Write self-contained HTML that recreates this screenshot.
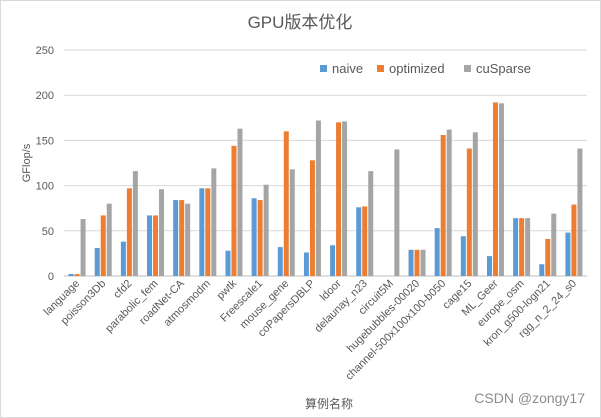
<!DOCTYPE html>
<html><head><meta charset="utf-8"><style>
body{margin:0;background:#fff;}
svg{display:block;font-family:"Liberation Sans","Noto Sans CJK SC",sans-serif;}
</style></head><body>
<svg id="c" width="601" height="418">
<rect x="0.5" y="0.5" width="600" height="417" fill="#fff" stroke="#d9d9d9"/>
<text x="300" y="28" text-anchor="middle" font-size="17" fill="#595959">GPU版本优化</text>
<text transform="translate(30,163) rotate(-90)" text-anchor="middle" font-size="11" fill="#595959">GFlop/s</text>
<text x="329" y="408" text-anchor="middle" font-size="12" fill="#595959">算例名称</text>
<g>
<rect x="320" y="65" width="7" height="7" fill="#5b9bd5"/>
<text x="332" y="73" font-size="13" fill="#595959">naive</text>
<rect x="377" y="65" width="7" height="7" fill="#ed7d31"/>
<text x="389" y="73" font-size="13" fill="#595959">optimized</text>
<rect x="464" y="65" width="7" height="7" fill="#a5a5a5"/>
<text x="476" y="73" font-size="13" fill="#595959">cuSparse</text>
</g>
<g id="grid"></g><g id="bars"></g><g id="xl"></g>
<text x="585" y="403" text-anchor="end" font-size="14" fill="#8c8c8c">CSDN @zongy17</text>
</svg>
<script>
const categories=["language","poisson3Db","cfd2","parabolic_fem","roadNet-CA","atmosmodm","pwtk","Freescale1","mouse_gene","coPapersDBLP","ldoor","delaunay_n23","circuit5M","hugebubbles-00020","channel-500x100x100-b050","cage15","ML_Geer","europe_osm","kron_g500-logn21","rgg_n_2_24_s0"];
const naive=[2.2,31,38,67,84,97,28,86,32,26,34,76,0,29,53,44,22,64,13,48];
const optimized=[2.2,67,97,67,84,97,144,84,160,128,170,77,0,29,156,141,192,64,41,79];
const cusparse=[63,80,116,96,80,119,163,101,118,172,171,116,140,29,162,159,191,64,69,141];
const yTicks=[0,50,100,150,200,250];
const NS="http://www.w3.org/2000/svg";
const x0=64,x1=587,yb=276,yt=50,ymax=250;
const band=(x1-x0)/categories.length;
const y=v=>yb-(v/ymax)*(yb-yt);
const cx=i=>x0+band*(i+0.5);
function mk(t,a,p){const e=document.createElementNS(NS,t);for(const k in a)e.setAttribute(k,a[k]);p.appendChild(e);return e;}
const g=document.getElementById('grid');
yTicks.forEach(v=>{
 const l=mk('line',{x1:x0,x2:x1,y1:y(v),y2:y(v),stroke:v===0?'#bfbfbf':'#d9d9d9','stroke-width':1},g);
 
 
 const t=mk('text',{x:54,y:y(v)+4,'text-anchor':'end','font-size':11,fill:'#595959'},g);
 t.textContent=v;
 
 
});
const b=document.getElementById('bars');
const series=[[naive,'#5b9bd5','naive'],[optimized,'#ed7d31','optimized'],[cusparse,'#a5a5a5','cusparse']];
const bw=5,gap=1;
categories.forEach((c,i)=>{
 series.forEach((s,j)=>{
  const v=s[0][i];
  const bx=cx(i)+(j-1)*(bw+gap)-bw/2;
  const r=mk('rect',{x:bx,y:y(v),width:bw,height:yb-y(v),fill:s[1]},b);
  
  
 });
 const t=mk('text',{transform:`translate(${cx(i)+3},${yb+8}) rotate(-45)`,'text-anchor':'end','font-size':11,fill:'#595959'},document.getElementById('xl'));
 t.textContent=c;
 
 
});
</script>
</body></html>
